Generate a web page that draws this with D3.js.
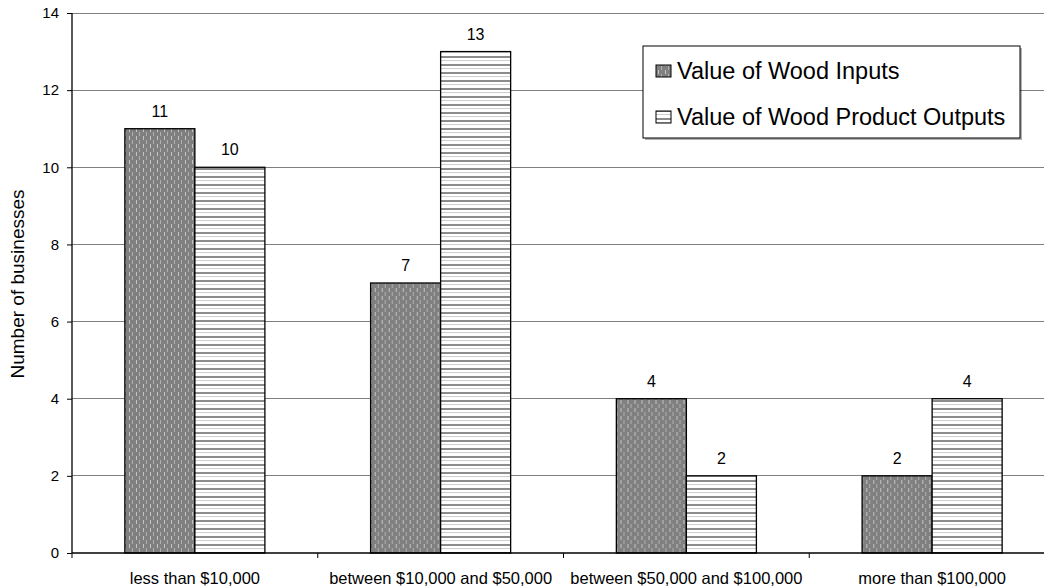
<!DOCTYPE html>
<html>
<head>
<meta charset="utf-8">
<script src="https://cdn.jsdelivr.net/npm/d3@7"></script>
<style>
  html, body { margin: 0; padding: 0; background: #fff; }
  svg { display: block; font-family: "Liberation Sans", Arial, sans-serif; }
</style>
</head>
<body>
<svg id="chart" width="1044" height="587"></svg>
<script>
// Business counts by value bracket
const categories = ["less than $10,000", "between $10,000 and $50,000", "between $50,000 and $100,000", "more than $100,000"];
const seriesNames = ["Value of Wood Inputs", "Value of Wood Product Outputs"];
const woodInputs = [11, 7, 4, 2];
const woodOutputs = [10, 13, 2, 4];
const yTicks = [0, 2, 4, 6, 8, 10, 12, 14];

const FONT = "Liberation Sans, Arial, sans-serif";
const svg = d3.select("#chart");
const margin = { left: 72, top: 13, right: 1055, bottom: 553 };

const defs = svg.append("defs");
// Dark fill with staggered light vertical dashes
const pIn = defs.append("pattern").attr("id", "pat-in")
  .attr("patternUnits", "userSpaceOnUse").attr("width", 7).attr("height", 8);
pIn.append("rect").attr("width", 7).attr("height", 8).attr("fill", "#808080");
pIn.append("rect").attr("x", 1).attr("y", 0).attr("width", 1).attr("height", 4).attr("fill", "#c4c4c4");
pIn.append("rect").attr("x", 4).attr("y", 4).attr("width", 1).attr("height", 4).attr("fill", "#b0b0b0");
// White fill with horizontal gray rules
const pOut = defs.append("pattern").attr("id", "pat-out")
  .attr("patternUnits", "userSpaceOnUse").attr("width", 8).attr("height", 8);
pOut.append("rect").attr("width", 8).attr("height", 8).attr("fill", "#ffffff");
pOut.append("rect").attr("y", 0).attr("width", 8).attr("height", 2).attr("fill", "#8c8c8c");
pOut.append("rect").attr("y", 4).attr("width", 8).attr("height", 1).attr("fill", "#cfcfcf");

const fills = ["url(#pat-in)", "url(#pat-out)"];

const x = d3.scaleBand().domain(categories).range([margin.left, margin.right]).padding(0);
const xs = d3.scaleBand().domain(seriesNames).range([0, x.bandwidth()]).paddingInner(0).paddingOuter(0.755);
const y = d3.scaleLinear().domain([0, 14]).range([margin.bottom, margin.top]);

// Horizontal gridlines
svg.append("g").selectAll("line").data(yTicks.filter(d => d > 0)).join("line")
  .attr("x1", margin.left).attr("x2", margin.right)
  .attr("y1", d => y(d)).attr("y2", d => y(d))
  .attr("stroke", "#808080").attr("stroke-width", 1)
  .attr("shape-rendering", "crispEdges");

// Bars
const rows = categories.map((c, i) => ({ cat: c, vals: [woodInputs[i], woodOutputs[i]] }));
const groups = svg.append("g").selectAll("g").data(rows).join("g")
  .attr("transform", d => `translate(${x(d.cat)},0)`);

groups.selectAll("rect").data(d => d.vals.map((v, j) => ({ v, j }))).join("rect")
  .attr("x", d => xs(seriesNames[d.j]))
  .attr("y", d => y(d.v))
  .attr("width", xs.bandwidth())
  .attr("height", d => y(0) - y(d.v))
  .attr("fill", d => fills[d.j])
  .attr("stroke", "#000").attr("stroke-width", 1.3);

// Value labels
groups.selectAll("text").data(d => d.vals.map((v, j) => ({ v, j }))).join("text")
  .attr("x", d => xs(seriesNames[d.j]) + xs.bandwidth() / 2)
  .attr("y", d => y(d.v) - 12)
  .attr("text-anchor", "middle")
  .attr("font-size", 16).attr("fill", "#000")
  .text(d => d.v);

// Y axis
const yAxis = svg.append("g").attr("transform", `translate(${margin.left},0)`)
  .call(d3.axisLeft(y).tickValues(yTicks).tickSize(5).tickPadding(8).tickFormat(d3.format("d")));
yAxis.select(".domain").attr("stroke", "#000").attr("stroke-width", 1.3).attr("d", `M0,${margin.top}V${margin.bottom}`);
yAxis.selectAll(".tick line").attr("stroke", "#000");
yAxis.selectAll(".tick text").attr("font-size", 15).attr("font-family", FONT).attr("fill", "#000");

// X axis: baseline, category divider ticks, labels
const xAxis = svg.append("g").attr("transform", `translate(0,${margin.bottom})`)
  .call(d3.axisBottom(x).tickSize(0).tickPadding(19));
xAxis.select(".domain").attr("stroke", "#000").attr("stroke-width", 1.3).attr("d", `M${margin.left},0H${margin.right}`);
xAxis.selectAll(".tick text").attr("font-size", 16.5).attr("font-family", FONT).attr("fill", "#000");
const dividers = categories.map(c => x(c)).concat([x(categories[categories.length - 1]) + x.bandwidth()]);
xAxis.append("g").selectAll("line").data(dividers).join("line")
  .attr("x1", d => d).attr("x2", d => d).attr("y1", 0).attr("y2", 5)
  .attr("stroke", "#000").attr("stroke-width", 1);

// Y axis title
svg.append("text")
  .attr("transform", `translate(24,${(margin.top + margin.bottom) / 2 + 1}) rotate(-90)`)
  .attr("text-anchor", "middle").attr("font-size", 19).attr("fill", "#000")
  .text("Number of businesses");

// Legend
const lg = svg.append("g").attr("transform", "translate(643,46)");
lg.append("rect").attr("x", 2).attr("y", 2).attr("width", 377).attr("height", 92).attr("fill", "#000").attr("opacity", 0.3);
lg.append("rect").attr("width", 377).attr("height", 92).attr("fill", "#fff").attr("stroke", "#000").attr("stroke-width", 1);
seriesNames.forEach((name, i) => {
  const cy = 25 + i * 46;
  lg.append("rect").attr("x", 13).attr("y", cy - 6).attr("width", 15).attr("height", 12)
    .attr("fill", fills[i]).attr("stroke", "#000").attr("stroke-width", 1);
  lg.append("text").attr("x", 34).attr("y", cy).attr("dy", "0.35em")
    .attr("font-size", 23.5).attr("fill", "#000").text(name);
});
</script>
</body>
</html>
